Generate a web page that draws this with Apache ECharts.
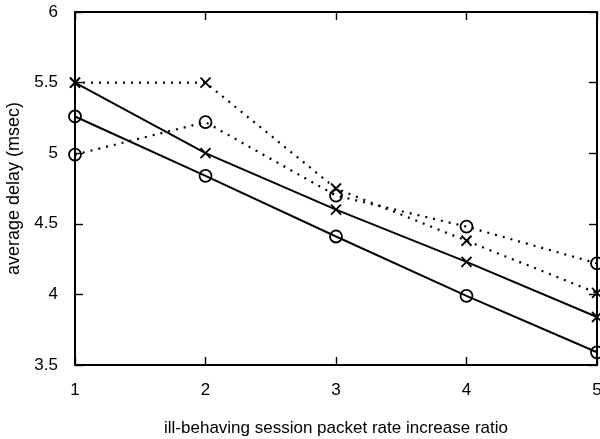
<!DOCTYPE html>
<html><head><meta charset="utf-8">
<script src="https://cdn.jsdelivr.net/npm/echarts@6/dist/echarts.min.js"></script>
<style>html,body{margin:0;padding:0;background:#fff}#c{width:600px;height:439px}</style>
</head><body><div id="c"></div>
<script>
const xValues = [1, 2, 3, 4, 5];
const solidCross = [5.50, 5.00, 4.60, 4.23, 3.84];
const solidCircle = [5.26, 4.84, 4.41, 3.99, 3.59];
const dottedCross = [5.50, 5.50, 4.75, 4.38, 4.01];
const dottedCircle = [4.99, 5.22, 4.70, 4.48, 4.22];
const xTicks = [1, 2, 3, 4, 5];
const yTicks = [3.5, 4, 4.5, 5, 5.5, 6];

const crossPath = 'path://M0,0L10,10M10,0L0,10';
const font = 'Liberation Sans';

function pairs(ys) { return xValues.map((x, i) => [x, ys[i]]); }
function mk(name, ys, dotted, cross) {
  return {
    name, type: 'line', data: pairs(ys),
    symbol: cross ? crossPath : 'circle',
    symbolSize: cross ? 10 : 12,
    itemStyle: { color: 'rgba(0,0,0,0)', borderColor: '#000', borderWidth: 1.8 },
    lineStyle: { color: '#000', width: dotted ? 2.2 : 2, type: dotted ? [2, 6] : 'solid' },
    emphasis: { disabled: true }, animation: false, z: cross ? 3 : 2
  };
}
const chart = echarts.init(document.getElementById('c'), null, { renderer: 'canvas' });
const axisLine = { show: true, lineStyle: { color: '#000', width: 2 } };
const tick = { show: true, inside: true, length: 8, lineStyle: { color: '#000', width: 1.4 } };
chart.setOption({
  animation: false,
  grid: { left: 75, right: 3, top: 12, bottom: 74, containLabel: false, outerBoundsMode: 'none' },
  xAxis: [{
    type: 'value', min: xTicks[0], max: xTicks[xTicks.length - 1], interval: 1,
    axisLine, axisTick: tick, splitLine: { show: false },
    axisLabel: { color: '#000', fontFamily: font, fontSize: 17, margin: 17 },
    name: 'ill-behaving session packet rate increase ratio', nameLocation: 'middle', nameGap: 55,
    nameTextStyle: { color: '#000', fontFamily: font, fontSize: 17 }
  }, {
    type: 'value', position: 'top', min: xTicks[0], max: xTicks[xTicks.length - 1], interval: 1,
    axisLine, axisTick: tick, axisLabel: { show: false }, splitLine: { show: false }
  }],
  yAxis: [{
    type: 'value', min: yTicks[0], max: yTicks[yTicks.length - 1], interval: 0.5,
    axisLine, axisTick: tick, splitLine: { show: false },
    axisLabel: { color: '#000', fontFamily: font, fontSize: 17, margin: 17 },
    name: 'average delay (msec)', nameLocation: 'middle', nameGap: 47,
    nameTextStyle: { color: '#000', fontFamily: font, fontSize: 18 }
  }, {
    type: 'value', position: 'right', min: yTicks[0], max: yTicks[yTicks.length - 1], interval: 0.5,
    axisLine, axisTick: tick, axisLabel: { show: false }, splitLine: { show: false }
  }],
  series: [
    mk('solid x', solidCross, false, true),
    mk('solid o', solidCircle, false, false),
    mk('dotted x', dottedCross, true, true),
    mk('dotted o', dottedCircle, true, false)
  ]
});
</script></body></html>
